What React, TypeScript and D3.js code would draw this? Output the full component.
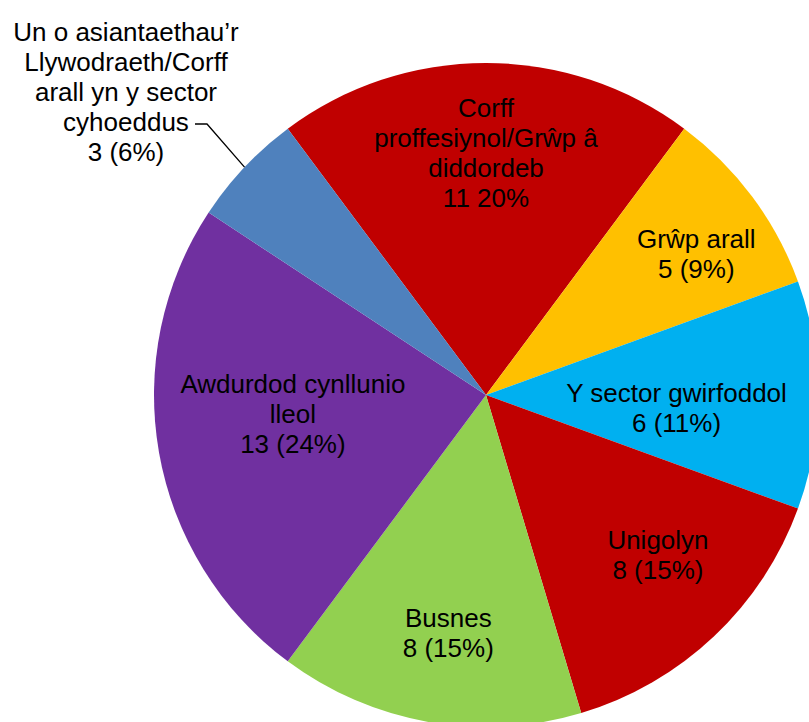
import * as d3 from 'd3';
import { useEffect, useRef } from 'react';

// slices, clockwise from the top
const categories = [
    'Corff proffesiynol/Grŵp â diddordeb',
    'Grŵp arall',
    'Y sector gwirfoddol',
    'Unigolyn',
    'Busnes',
    'Awdurdod cynllunio lleol',
    'Un o asiantaethau’r Llywodraeth/Corff arall yn y sector cyhoeddus'
];
const values = [11, 5, 6, 8, 8, 13, 3];
const valueLabels = ['11 20%', '5 (9%)', '6 (11%)', '8 (15%)', '8 (15%)', '13 (24%)', '3 (6%)'];
const labelLines = [
    ['Corff', 'proffesiynol/Grŵp â', 'diddordeb'],
    ['Grŵp arall'],
    ['Y sector gwirfoddol'],
    ['Unigolyn'],
    ['Busnes'],
    ['Awdurdod cynllunio', 'lleol'],
    ['Un o asiantaethau’r', 'Llywodraeth/Corff', 'arall yn y sector', 'cyhoeddus']
];
const colors = ['#C00000', '#FFC000', '#00B0F0', '#C00000', '#92D050', '#7030A0', '#4F81BD'];

export default function App() {
    const ref = useRef<HTMLDivElement>(null);

    useEffect(() => {
        const width = 809;
        const height = 722;
        const cx = 486;
        const cy = 395;
        const radius = 332;
        const fontSize = 26;
        const lineHeight = 30;

        // label placement (angle shift in degrees, distance from centre) like Excel's best fit
        const labelLayout = [
            { shift: 0, r: 242 },
            { shift: 2.9, r: 253 },
            { shift: 4, r: 191 },
            { shift: -3.7, r: 235 },
            { shift: -1, r: 241 },
            { shift: 4.5, r: 194 },
            null
        ];

        const total = d3.sum(values);
        const start = -(values[0] / 2) / total * 2 * Math.PI;

        const pie = d3.pie<number>()
            .sort(null)
            .value(d => d)
            .startAngle(start)
            .endAngle(start + 2 * Math.PI);
        const arcs = pie(values);
        const arc = d3.arc<d3.PieArcDatum<number>>().innerRadius(0).outerRadius(radius);

        const svg = d3.create('svg')
            .attr('width', width)
            .attr('height', height)
            .style('position', 'absolute')
            .style('left', 0)
            .style('top', 0)
            .style('display', 'block');

        const g = svg.append('g').attr('transform', `translate(${cx},${cy})`);

        g.selectAll('path.slice')
            .data(arcs)
            .join('path')
            .attr('class', 'slice')
            .attr('d', arc)
            .attr('fill', (d, i) => colors[i]);

        const text = svg.append('g')
            .attr('font-family', 'Liberation Sans, Arial, sans-serif')
            .attr('font-size', fontSize)
            .attr('fill', '#000')
            .attr('text-anchor', 'middle');

        arcs.forEach((a, i) => {
            const lines = [...labelLines[i], valueLabels[i]];
            const layout = labelLayout[i];
            let x: number;
            let y: number;
            if (layout) {
                const ang = (a.startAngle + a.endAngle) / 2 + layout.shift * Math.PI / 180;
                x = cx + layout.r * Math.sin(ang);
                y = cy - layout.r * Math.cos(ang);
            } else {
                // outside label with leader line
                x = 126;
                y = 92;
                const mid = (a.startAngle + a.endAngle) / 2;
                const ex = cx + radius * Math.sin(mid);
                const ey = cy - radius * Math.cos(mid);
                svg.append('polyline')
                    .attr('points', `195,124 207,124 ${ex},${ey}`)
                    .attr('fill', 'none')
                    .attr('stroke', '#000')
                    .attr('stroke-width', 1.3);
            }
            const first = y - (lines.length - 1) * lineHeight / 2 + 0.35 * fontSize;
            const t = text.append('text');
            lines.forEach((l, j) => {
                t.append('tspan')
                    .attr('x', x)
                    .attr('y', first + j * lineHeight)
                    .text(l);
            });
        });

        ref.current?.replaceChildren(svg.node()!);
    }, []);

    return <div ref={ref}></div>;
}
